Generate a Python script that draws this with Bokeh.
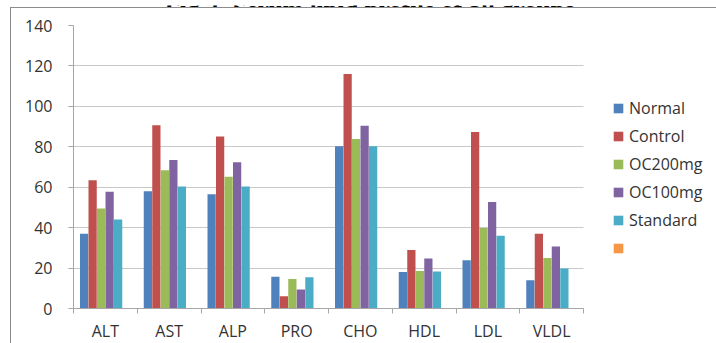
from bokeh.plotting import figure
from bokeh.models import (Range1d, FixedTicker, SingleIntervalTicker, Legend, LegendItem,
                          ColumnDataSource, Label)
from bokeh.layouts import column
from bokeh.embed import file_html
from bokeh.resources import INLINE

categories = ["ALT", "AST", "ALP", "PRO", "CHO", "HDL", "LDL", "VLDL"]
normal = [37.0, 58.0, 56.5, 15.7, 80.3, 18.0, 23.9, 14.0]
control = [63.5, 90.7, 85.1, 6.0, 116.0, 28.9, 87.3, 37.0]
oc200mg = [49.5, 68.4, 65.2, 14.6, 83.8, 18.6, 39.8, 25.0]
oc100mg = [57.7, 73.5, 72.4, 9.4, 90.4, 24.7, 52.7, 30.7]
standard = [44.0, 60.3, 60.3, 15.5, 80.3, 18.3, 36.0, 19.8]
empty_series = [float("nan")] * 8
series_names = ["Normal", "Control", "OC200mg", "OC100mg", "Standard", " "]
series_values = [normal, control, oc200mg, oc100mg, standard, empty_series]
colors = ["#4F81BD", "#C0504D", "#9BBB59", "#8064A2", "#4BACC6", "#F79646"]
title_text = "Fig 2- Serum lipid profile of all groups"

W, H = 716, 343
OX, OY = 10, 7          # chart box offset in page
L, T, B = 62, 17, 36
PLOT_W = 510            # width of the category area
PW = W - OX
FRAME_W = PW - L

# ---- title strip (only its lower part shows, as in the reference) ----
tf = figure(width=PW, height=OY, output_backend="svg", toolbar_location=None,
            x_axis_type=None, y_axis_type=None,
            min_border_left=L, min_border_right=0, min_border_top=0, min_border_bottom=0,
            margin=(0, 0, 0, OX),
            x_range=Range1d(0, 1), y_range=Range1d(0, 1))
tf.outline_line_color = None
tf.grid.visible = False
tf.add_layout(Label(x=369 - OX - L, y=3.5, x_units="screen", y_units="screen",
                    text=title_text, text_align="center", text_baseline="alphabetic",
                    text_font="Liberation Serif", text_font_style="bold",
                    text_font_size="25px", text_color="black"))

# ---- chart ----
p = figure(width=PW, height=H - OY, output_backend="svg", toolbar_location=None,
           x_range=Range1d(0, len(categories) * FRAME_W / PLOT_W), y_range=Range1d(0, 140),
           min_border_left=L, min_border_right=0, min_border_top=T, min_border_bottom=B,
           margin=(0, 0, 0, OX))
p.styles = {"border-top": "1px solid #8c8c8c", "border-left": "1px solid #8c8c8c"}
p.outline_line_color = None
p.background_fill_color = "white"
p.border_fill_color = "white"

nslots = len(series_names)
bw = 1.0 / 7.5
items = []
for j, (name, vals, col) in enumerate(zip(series_names, series_values, colors)):
    xs = [i + 0.5 + (j - (nslots - 1) / 2) * bw for i in range(len(vals))]
    src = ColumnDataSource(dict(x=xs, top=vals))
    r = p.vbar(x="x", top="top", width=bw * 0.97, bottom=0, source=src,
               fill_color=col, line_color=None)
    items.append(LegendItem(label=name, renderers=[r]))

xax = p.xaxis[0]
xax.bounds = (0, len(categories))
xax.ticker = FixedTicker(ticks=[i + 0.5 for i in range(len(categories))],
                         minor_ticks=list(range(len(categories) + 1)))
xax.major_label_overrides = {i + 0.5: c for i, c in enumerate(categories)}
xax.major_tick_line_color = None
xax.minor_tick_line_color = "#a6a6a6"
xax.minor_tick_in = 0
xax.minor_tick_out = 5
xax.axis_line_color = "#a6a6a6"
xax.major_label_standoff = 5
xax.major_label_text_font = "Open Sans"
xax.major_label_text_font_size = "16px"
xax.major_label_text_color = "#333333"

yax = p.yaxis[0]
yax.ticker = SingleIntervalTicker(interval=20)
yax.minor_tick_line_color = None
yax.major_tick_line_color = "#a6a6a6"
yax.major_tick_in = 0
yax.major_tick_out = 5
yax.axis_line_color = "#a6a6a6"
yax.major_label_standoff = 16
yax.major_label_text_font = "Open Sans"
yax.major_label_text_font_size = "16px"
yax.major_label_text_color = "#333333"

p.xgrid.grid_line_color = None
p.ygrid.ticker = SingleIntervalTicker(interval=20)
p.ygrid.grid_line_color = "#c8c8c8"
p.ygrid.cross_bounds = (0, len(categories))

legend = Legend(items=items, location=(539, 49),
                orientation="vertical", glyph_width=12, glyph_height=12,
                label_height=22, spacing=6, padding=0, margin=0,
                label_standoff=5, border_line_color=None,
                background_fill_alpha=0,
                label_text_font="Open Sans", label_text_font_size="16px",
                label_text_color="#333333")
p.add_layout(legend, "center")

layout = column(tf, p, spacing=0, margin=0)
open("out.html", "w").write(file_html(layout, INLINE))
